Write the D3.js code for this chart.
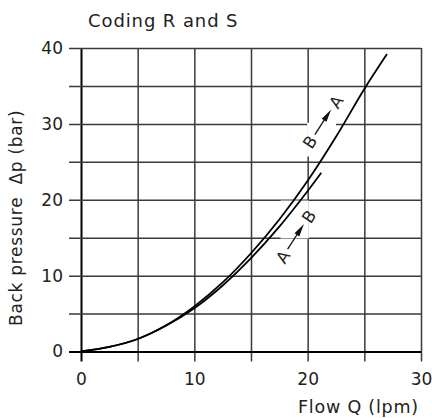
<!DOCTYPE html>
<html>
<head>
<meta charset="utf-8">
<script src="https://cdn.jsdelivr.net/npm/d3@7"></script>
<style>
  body { margin: 0; background: #fff; }
  svg text { font-family: "DejaVu Sans", sans-serif; fill: #222; }
</style>
</head>
<body>
<div id="chart"></div>
<script>
// grid / tick values
var xTicks = [0, 5, 10, 15, 20, 25, 30];
var yTicks = [0, 5, 10, 15, 20, 25, 30, 35, 40];

// curve B -> A (upper one, runs to the top)
var baQ = [0, 2.5, 5, 7.5, 10, 12.5, 15, 17.5, 20, 22.5, 25, 27];
var baP = [0, 0.6, 1.65, 3.45, 5.95, 9.1, 12.95, 17.4, 22.5, 28.3, 34.6, 39.2];

// curve A -> B (lower one, stops short)
var abQ = [0, 2.5, 5, 7.5, 10, 12.5, 15, 17.5, 20, 21.2];
var abP = [0, 0.6, 1.65, 3.4, 5.7, 8.7, 12.3, 16.45, 21.15, 23.55];

var W = 432, H = 418;

var x = d3.scaleLinear().domain([0, 30]).range([81, 421]);
var y = d3.scaleLinear().domain([0, 40]).range([351.5, 48]);

var svg = d3.select("#chart").append("svg")
    .attr("width", W)
    .attr("height", H);

// vertical grid + bottom ticks + x labels
var xAxis = d3.axisBottom(x)
    .tickValues(xTicks)
    .tickSize(y(0) - y(40) + 10)
    .tickPadding(11)
    .tickFormat(function(d) { return d % 10 === 0 ? d : ""; });

var gx = svg.append("g")
    .attr("transform", "translate(0," + y(40) + ")")
    .call(xAxis);

// horizontal grid + left ticks + y labels
var yAxis = d3.axisLeft(y)
    .tickValues(yTicks)
    .tickSize(-(x(30) - x(0) + 12))
    .tickPadding(6)
    .tickFormat(function(d) { return d % 10 === 0 ? d : ""; });

var gy = svg.append("g")
    .attr("transform", "translate(" + (x(0) - 12) + ",0)")
    .call(yAxis);

[gx, gy].forEach(function(g) {
  g.select(".domain").remove();
  g.attr("font-family", null).attr("font-size", null);
  g.selectAll(".tick line")
    .attr("stroke", function(d) { return d === 0 ? "#000" : "#3a3a3a"; })
    .attr("stroke-width", function(d) { return d === 0 ? 2 : 1.5; });
  g.selectAll(".tick text")
    .attr("fill", "#2a2a2a")
    .style("font-size", "17px");
});

// white patches behind the direction labels
function mask(q0, q1, p0, p1) {
  svg.append("rect")
    .attr("x", x(q0))
    .attr("y", y(p1))
    .attr("width", x(q1) - x(q0))
    .attr("height", y(p0) - y(p1))
    .attr("fill", "#fff");
}
mask(19.95, 22.5, 25.7, 30.15);
mask(17.6, 20.1, 14.9, 19.9);

// curves
var line = d3.line()
    .x(function(d) { return x(d[0]); })
    .y(function(d) { return y(d[1]); })
    .curve(d3.curveCatmullRom.alpha(0.5));

svg.append("path")
    .datum(d3.zip(baQ, baP))
    .attr("d", line)
    .attr("fill", "none")
    .attr("stroke", "#000")
    .attr("stroke-width", 1.8);

svg.append("path")
    .datum(d3.zip(abQ, abP))
    .attr("d", line)
    .attr("fill", "none")
    .attr("stroke", "#000")
    .attr("stroke-width", 1.8);

// "B -> A" style labels, tilted along the curve
function arrowLabel(q, p, from, to) {
  var gl = svg.append("g")
    .attr("transform", "translate(" + x(q) + "," + y(p) + ") rotate(-57)");
  gl.append("text")
    .attr("text-anchor", "middle")
    .attr("dy", "0.36em")
    .style("font-size", "16.5px")
    .text(from);
  gl.append("line")
    .attr("x1", 9).attr("x2", 30)
    .attr("y1", 0).attr("y2", 0)
    .attr("stroke", "#111")
    .attr("stroke-width", 1.3);
  gl.append("path")
    .attr("d", "M26,-2.8L39,0L26,2.8Z")
    .attr("fill", "#111");
  gl.append("text")
    .attr("x", 48)
    .attr("text-anchor", "middle")
    .attr("dy", "0.36em")
    .style("font-size", "16.5px")
    .text(to);
}
arrowLabel(20.2, 27.6, "B", "A");
arrowLabel(17.8, 12.5, "A", "B");

// titles
svg.append("text")
    .attr("x", 88)
    .attr("y", 27)
    .style("font-size", "18px")
    .style("letter-spacing", "0.9px")
    .text("Coding R and S");

svg.append("text")
    .attr("x", 419)
    .attr("y", 413)
    .attr("text-anchor", "end")
    .style("font-size", "17.5px")
    .style("letter-spacing", "0.8px")
    .text("Flow Q (lpm)");

svg.append("text")
    .attr("transform", "translate(22," + ((y(0) + y(40)) / 2 + 18) + ") rotate(-90)")
    .attr("text-anchor", "middle")
    .style("font-size", "17px")
    .style("letter-spacing", "0.7px")
    .style("white-space", "pre")
    .text("Back pressure  \u0394p (bar)");
</script>
</body>
</html>
